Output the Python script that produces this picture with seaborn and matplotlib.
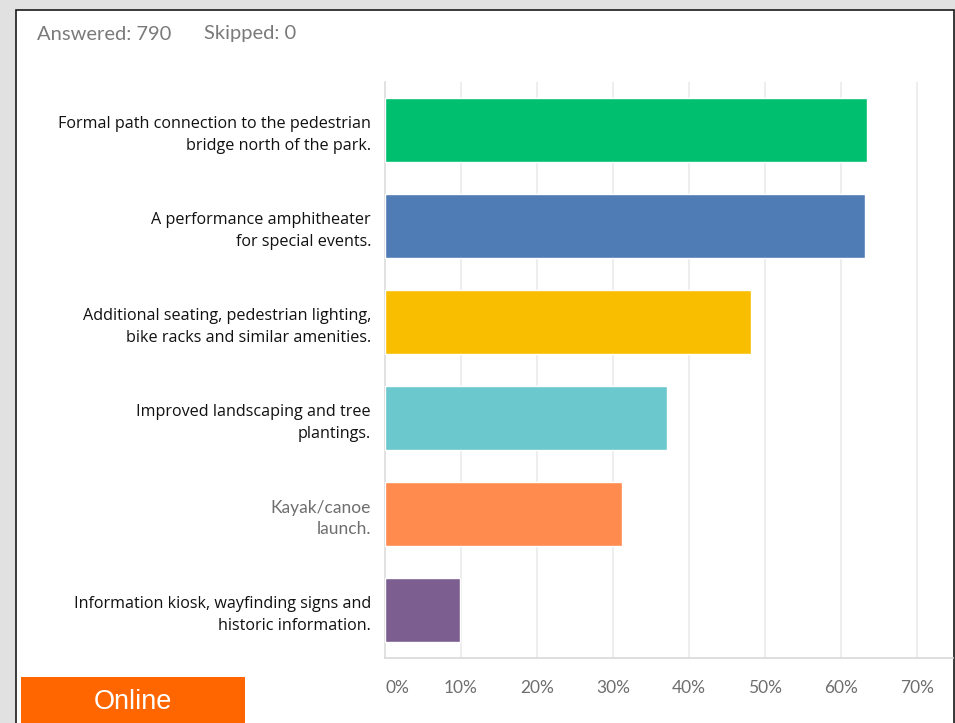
import matplotlib
matplotlib.use("Agg")
import matplotlib.pyplot as plt
import numpy as np
import pandas as pd
import seaborn as sns
from matplotlib.patches import Rectangle

# data
answers = [
    "Formal path connection to the pedestrian\nbridge north of the park.",
    "A performance amphitheater\nfor special events.",
    "Additional seating, pedestrian lighting,\nbike racks and similar amenities.",
    "Improved landscaping and tree\nplantings.",
    "Kayak/canoe\nlaunch.",
    "Information kiosk, wayfinding signs and\nhistoric information.",
]
percent = [63.4, 63.2, 48.2, 37.1, 31.2, 9.9]
bar_colors = ["#00BF6F", "#507CB6", "#F9BE00", "#6BC8CD", "#FF8B4F", "#7D5E90"]
x_ticks = [0, 10, 20, 30, 40, 50, 60, 70]
x_tick_labels = ["0%", "10%", "20%", "30%", "40%", "50%", "60%", "70%"]
answered = 790
skipped = 0

df = pd.DataFrame({"answer": answers, "percent": percent})

sns.set_theme(style="white")
plt.rcParams["font.family"] = ["Open Sans", "DejaVu Sans"]

W, H = 955, 723
fig = plt.figure(figsize=(W / 100, H / 100), dpi=100)
fig.patch.set_facecolor("#e1e1e1")

# white panel with dark border
fig.patches.append(Rectangle((16 / W, -0.05), (954 - 16) / W, 1.05 - 10 / H,
                             transform=fig.transFigure, facecolor="white",
                             edgecolor="#1a1a1a", linewidth=1.2, zorder=-1))

ax_l, ax_r, ax_t, ax_b = 385, 953, 82, 658
ax = fig.add_axes([ax_l / W, 1 - ax_b / H, (ax_r - ax_l) / W, (ax_b - ax_t) / H])
ax.set_facecolor("none")
ax.set_zorder(2)

sns.barplot(data=df, y="answer", x="percent", hue="answer", palette=bar_colors,
            legend=False, width=0.66, saturation=1, ax=ax, zorder=3)

ax.set_xlim(0, (ax_r - ax_l) / 76 * 10)
ax.set_ylim(len(answers) - 0.5, -0.5)
for t in x_ticks:
    ax.axvline(t, color="#ebebeb", linewidth=1.2, zorder=1)
ax.set_xticks(x_ticks)
ax.set_xticklabels(x_tick_labels, color="#6e6e6e", fontsize=12.5, family=["Lato", "DejaVu Sans"])
ax.get_xticklabels()[0].set_ha("left")
ax.tick_params(axis="x", length=0, pad=16)
ax.tick_params(axis="y", length=0, pad=10)
ax.set_xlabel("")
ax.set_ylabel("")
for lab in ax.get_yticklabels():
    lab.set_fontsize(11.6)
    lab.set_color("#111111")
    lab.set_linespacing(1.5)
    if lab.get_text().startswith("Kayak"):
        lab.set_color("#6e6e6e")
        lab.set_family(["Lato", "DejaVu Sans"])
        lab.set_fontsize(12.5)
        lab.set_linespacing(1.4)
for side in ["top", "right"]:
    ax.spines[side].set_visible(False)
ax.spines["left"].set_color("#dedede")
ax.spines["bottom"].set_color("#d9d9d9")

fig.text(37 / W, 1 - 34 / H, f"Answered: {answered}", color="#7a7a7a",
         fontsize=14.5, family=["Lato", "DejaVu Sans"], va="center")
fig.text(204 / W, 1 - 34 / H, f"Skipped: {skipped}", color="#7a7a7a",
         fontsize=14.5, family=["Lato", "DejaVu Sans"], va="center")

# "Online" tag
fig.patches.append(Rectangle((21 / W, 0), (245 - 21) / W, (H - 677) / H,
                             transform=fig.transFigure, facecolor="#FF6600",
                             edgecolor="none", zorder=5))
fig.text(133 / W, 1 - 702 / H, "Online", color="white", fontsize=19.5,
         family=["Liberation Sans Narrow", "Liberation Sans", "DejaVu Sans"],
         ha="center", va="center", zorder=6)

fig.savefig("out.png", dpi=100)
